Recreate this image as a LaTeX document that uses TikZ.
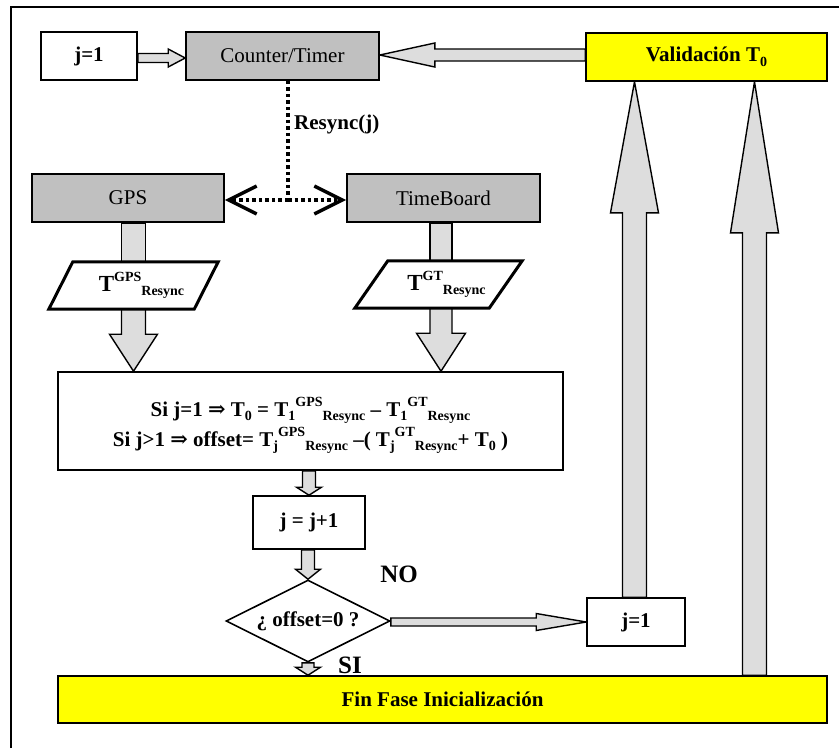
\documentclass[tikz,border=0pt]{standalone}
\usepackage{fontspec}
\setmainfont{Liberation Serif}
\newfontfamily\symfnt{DejaVu Serif}
\usetikzlibrary{calc,shapes.geometric,arrows.meta}

\definecolor{boxgray}{HTML}{C0C0C0}
\definecolor{arrowgray}{HTML}{DDDDDD}
\definecolor{boxyellow}{HTML}{FFFF00}

\newcommand\mainsz{\fontsize{21}{25}\selectfont}
\newcommand\smallsz{\fontsize{14}{16}\selectfont}
\newcommand\sups[1]{\raisebox{0.48em}{\smallsz #1}}
\newcommand\subs[1]{\raisebox{-0.22em}{\smallsz #1}}
\newcommand\imp{{\symfnt\bfseries ⇒}}

% block arrows: start point, tip, half shaft, half head, head length
\newcommand\fatdown[5]{\filldraw[fatfill] let \p1=(#1), \p2=(#2) in
  (\x2-#3pt,\y1) -- (\x2-#3pt,\y2+#5pt) -- (\x2-#4pt,\y2+#5pt) -- (\x2,\y2)
  -- (\x2+#4pt,\y2+#5pt) -- (\x2+#3pt,\y2+#5pt) -- (\x2+#3pt,\y1) -- cycle;}
\newcommand\fatup[5]{\filldraw[fatfill] let \p1=(#1), \p2=(#2) in
  (\x2-#3pt,\y1) -- (\x2-#3pt,\y2-#5pt) -- (\x2-#4pt,\y2-#5pt) -- (\x2,\y2)
  -- (\x2+#4pt,\y2-#5pt) -- (\x2+#3pt,\y2-#5pt) -- (\x2+#3pt,\y1) -- cycle;}
\newcommand\fatright[5]{\filldraw[fatfill] let \p1=(#1), \p2=(#2) in
  (\x1,\y2-#3pt) -- (\x2-#5pt,\y2-#3pt) -- (\x2-#5pt,\y2-#4pt) -- (\x2,\y2)
  -- (\x2-#5pt,\y2+#4pt) -- (\x2-#5pt,\y2+#3pt) -- (\x1,\y2+#3pt) -- cycle;}
\newcommand\fatleft[5]{\filldraw[fatfill] let \p1=(#1), \p2=(#2) in
  (\x1,\y2-#3pt) -- (\x2+#5pt,\y2-#3pt) -- (\x2+#5pt,\y2-#4pt) -- (\x2,\y2)
  -- (\x2+#5pt,\y2+#4pt) -- (\x2+#5pt,\y2+#3pt) -- (\x1,\y2+#3pt) -- cycle;}
% plain vertical bar: start point, end point, half width
\newcommand\fatbar[3]{\filldraw[fatfill] let \p1=(#1), \p2=(#2) in
  (\x2-#3pt,\y1) rectangle (\x2+#3pt,\y2);}

\pgfdeclarelayer{arrowlayer}
\pgfdeclarelayer{shapelayer}
\pgfsetlayers{arrowlayer,shapelayer,main}

\tikzset{
  basebox/.style={draw, line width=1.6pt, inner sep=0pt, font=\mainsz},
  whitebox/.style={basebox, fill=white},
  graybox/.style={basebox, fill=boxgray},
  yellowbox/.style={basebox, fill=boxyellow, font=\mainsz\bfseries},
  fatfill/.style={fill=arrowgray, draw=black, line width=1.4pt, line join=miter},
  dotline/.style={line width=3.5pt, dash pattern=on 3.5pt off 3pt},
  parholder/.style={inner sep=0pt, font=\mainsz\bfseries},
  parline/.style={draw, fill=white, line width=3pt, line join=miter},
  tag/.style={font=\fontsize{25}{25}\selectfont\bfseries, inner sep=0pt}
}

\begin{document}
\begin{tikzpicture}[x=1pt, y=-1pt]
\useasboundingbox (0,0) rectangle (839,748);

% outer frame
\draw[line width=2pt] (11,748) -- (11,7) -- (839,7);

% top row
\node[whitebox, font=\mainsz\bfseries, minimum width=96pt, minimum height=48pt] (jtop) at (89,56) {j=1};
\node[graybox, minimum width=193pt, minimum height=48pt] (ct) at (282.5,56) {Counter/Timer};
\node[yellowbox, minimum width=241pt, minimum height=48pt] (val) at (706.5,57) {Validación T\subs{0}};

% sources
\node[graybox, minimum width=192pt, minimum height=48pt] (gps) at (128,198) {GPS};
\node[graybox, minimum width=193pt, minimum height=48pt] (tb) at (443.5,198) {TimeBoard};

% data parallelograms
\node[parholder, minimum width=169pt, minimum height=47pt] (par1) at (133.5,285.5)
  {\hspace*{16pt}{\fontsize{23}{25}\selectfont T}\sups{GPS}\subs{Resync}};
\node[parholder, minimum width=167pt, minimum height=47pt] (par2) at (438.5,284.5)
  {\hspace*{16pt}{\fontsize{23}{25}\selectfont T}\sups{GT}\subs{Resync}};

% computation
\node[whitebox, font=\mainsz\bfseries, align=center, minimum width=505pt, minimum height=98pt] (form) at (310.5,421)
  {\rule{0pt}{28pt}Si j=1 \imp\ T\subs{0} = T\subs{1}\sups{GPS}\subs{Resync} -- T\subs{1}\sups{GT}\subs{Resync}\\[2pt]
   Si j>1 \imp\ offset= T\subs{j}\sups{GPS}\subs{Resync} --( T\subs{j}\sups{GT}\subs{Resync}+ T\subs{0} )};
\node[whitebox, font=\mainsz\bfseries, minimum width=112pt, minimum height=53pt] (jj) at (309,522.5) {j = j+1};
\node[whitebox, diamond, aspect=2, font=\mainsz\bfseries, minimum width=164pt, minimum height=82pt] (dia) at (308,621) {¿ offset=0 ?};
\node[whitebox, font=\mainsz\bfseries, minimum width=98pt, minimum height=48pt] (jbot) at (636,622) {j=1};
\node[yellowbox, minimum width=769pt, minimum height=47pt] (fin) at (442.5,699.5) {Fin Fase Inicialización};

% branch labels
\node[tag] (no) at (399,574) {NO};
\node[tag] (si) at (350,665) {SI};

% parallelogram outlines
\begin{pgfonlayer}{shapelayer}
\draw[parline] (par1.south west) -- ($(par1.north west)+(24,0)$) -- (par1.north east)
  -- ($(par1.south east)+(-24,0)$) -- cycle;
\draw[parline] (par2.south west) -- ($(par2.north west)+(33,0)$) -- (par2.north east)
  -- ($(par2.south east)+(-33,0)$) -- cycle;
\end{pgfonlayer}

% resync signal
\coordinate (split) at (288,200);
\draw[dotline] (ct.south -| split) -- (split);
\draw[dotline, -{Straight Barb[length=28pt,width=28pt]}] (split) -- (gps.east |- split);
\draw[dotline, -{Straight Barb[length=28pt,width=28pt]}] (split) -- (tb.west |- split);
\node[anchor=west, font=\mainsz\bfseries, inner sep=0pt] (rs) at (294,124) {Resync(j)};

% block arrows
\coordinate (rt) at ($(val.south)+(48,0)$);
\coordinate (lt) at ($(val.south)+(-72,0)$);
\begin{pgfonlayer}{arrowlayer}
\fatright{jtop.east}{$(ct.west)+(0,2)$}{4.5}{9}{17}
\fatleft{val.west}{$(ct.east)+(0,-1)$}{6}{12}{55}
\fatbar{gps.south}{par1.north}{12}
\fatdown{par1.south}{form.north -| par1.center}{12}{24}{37}
\fatbar{tb.south}{$(par2.north)+(2.5,0)$}{11}
\fatdown{par2.south}{$(form.north -| par2.center)+(2.5,0)$}{11}{24.5}{38}
\fatdown{form.south}{jj.north}{6.5}{12.5}{8}
\fatdown{jj.south}{dia.north}{6.5}{12.5}{10}
\fatright{dia.east}{jbot.west}{4}{8.5}{50}
\fatdown{dia.south}{fin.north -| dia.south}{6}{12.5}{8}
\fatup{jbot.north -| lt}{lt}{12}{24}{131}
\fatup{fin.north -| rt}{rt}{12}{24}{151}
\end{pgfonlayer}
\end{tikzpicture}
\end{document}
